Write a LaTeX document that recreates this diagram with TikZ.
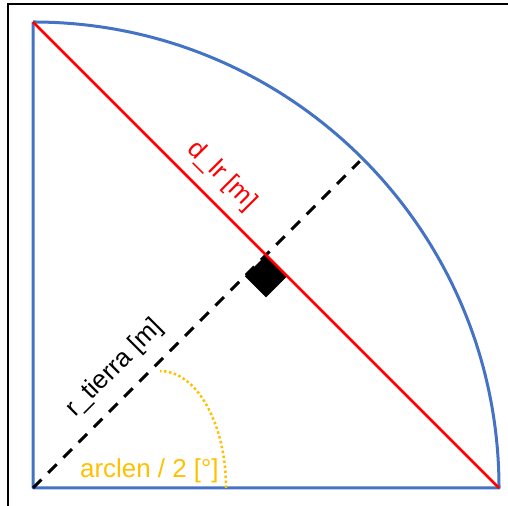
\documentclass[tikz,border=0pt]{standalone}
\usepackage{fontspec}
\setmainfont{Liberation Sans}
\usetikzlibrary{calc}
\definecolor{oblue}{HTML}{4472C4}
\definecolor{ored}{HTML}{FF0000}
\definecolor{oyellow}{HTML}{FFC000}
\tikzset{
  edgeblue/.style={draw=oblue, line width=3bp},
  diag/.style={draw=ored, line width=2.5bp},
  radius line/.style={draw=black, line width=3bp, dash pattern=on 12bp off 9.5bp},
  anglearc/.style={draw=oyellow, line width=2.5bp, dash pattern=on 2.5bp off 2.5bp},
  lbl/.style={inner sep=0pt, font=\fontsize{26}{30}\selectfont},
  frameline/.style={draw=black, line width=1.5bp}
}
\begin{document}
\begin{tikzpicture}[x=1bp,y=1bp]
\useasboundingbox (0,0) rectangle (508,506);
% frame (top and left)
\draw[frameline] (508,502) -- (8,502) -- (8,0);
% key points
\coordinate (C) at (33,18);
\coordinate (T) at (33,484);
\coordinate (R) at (499,18);
\coordinate (A) at ($(C)+(45:462)$);
\coordinate (M) at (266,251);
% blue quarter circle
\draw[edgeblue, line join=round] (T) -- (C) -- (R) arc[start angle=0, end angle=90, radius=466];
% dashed radius
\draw[radius line] (C) -- (A);
% right angle marker
\fill[black] (M) -- ++(-45:30) -- ++(225:30) -- ++(135:30) -- cycle;
% red chord
\draw[diag] (T) -- (R);
% yellow angle arc
\draw[anglearc] (226,18) arc[start angle=0, end angle=90, x radius=66, y radius=117];
% labels
\node[lbl, text=ored, rotate=-45] (dlr) at (222,330) {d\_lr [m]};
\node[lbl, text=black, rotate=45] (rt) at (115,138) {r\_tierra [m]};
\node[lbl, text=oyellow, anchor=base west] (arc) at (80,28) {arclen / 2 [°]};
\end{tikzpicture}
\end{document}
